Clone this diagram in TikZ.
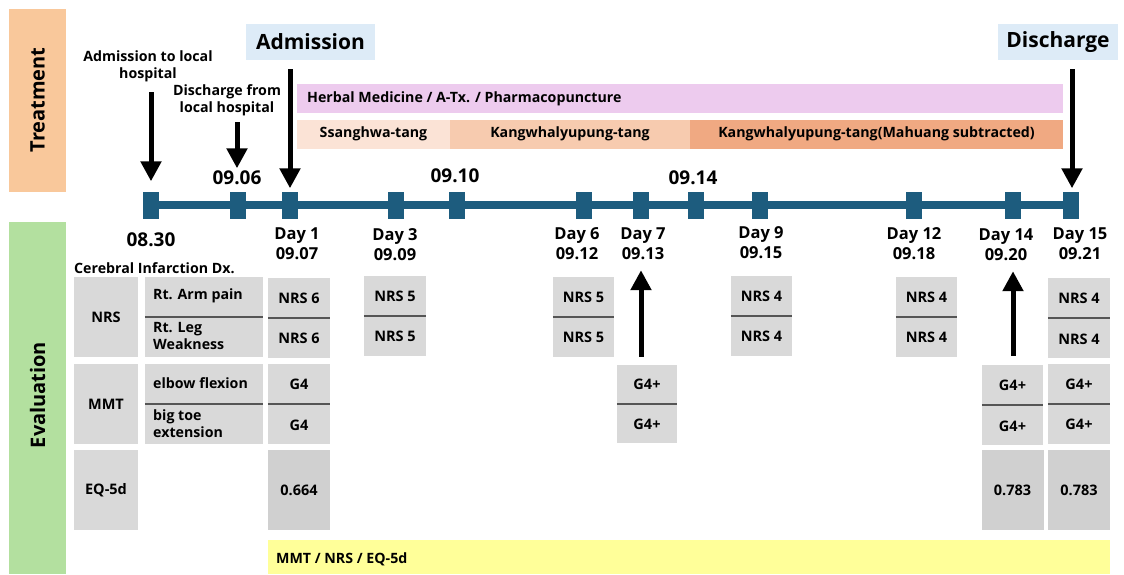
\documentclass[tikz,border=0pt]{standalone}
\usepackage{fontspec}
\setmainfont{Open Sans}
\usetikzlibrary{arrows.meta}

\definecolor{treatorange}{HTML}{F9C89B}
\definecolor{evalgreen}{HTML}{B3E09F}
\definecolor{admblue}{HTML}{DDEBF7}
\definecolor{herbpink}{HTML}{EDCBEE}
\definecolor{ssangpeach}{HTML}{FBE3D6}
\definecolor{kangpeach}{HTML}{F7CBAF}
\definecolor{mahuangorange}{HTML}{F0A982}
\definecolor{evalyellow}{HTML}{FFFF99}
\definecolor{tlblue}{HTML}{1D5C7E}
\definecolor{cellgray}{HTML}{D9D9D9}
\definecolor{eqgray}{HTML}{D0D0D0}
\definecolor{divgray}{HTML}{555555}

\tikzset{
  tlmark/.style={fill=tlblue, minimum width=16pt, minimum height=27pt, inner sep=0pt},
  sidetxt/.style={rotate=90, font=\bfseries\fontsize{20}{24}\selectfont},
  headbox/.style={inner sep=0pt, minimum height=36pt, font=\bfseries\fontsize{21}{24}\selectfont},
  bigdate/.style={font=\bfseries\fontsize{19}{22}\selectfont, inner sep=0pt},
  daylbl/.style={align=center, font=\bfseries\fontsize{16.5}{20}\selectfont, inner sep=0pt},
  note/.style={align=center, font=\bfseries\fontsize{14.2}{17}\selectfont, inner sep=0pt},
  bar/.style={inner sep=0pt, minimum height=29pt},
  cell/.style={fill=cellgray, inner sep=0pt, minimum height=80pt},
  celltxt/.style={font=\bfseries\fontsize{14.5}{17}\selectfont, inner sep=0pt},
  itemtxt/.style={font=\bfseries\fontsize{14.2}{17}\selectfont, inner sep=0pt, anchor=west, align=left},
  divider/.style={draw=divgray, line width=1.6pt},
  bigarrow/.style={line width=5pt, -{Triangle[width=20pt,length=20pt]}}
}

\begin{document}
\begin{tikzpicture}[x=1pt,y=-1pt]
	\useasboundingbox (0,0) rectangle (1124,574);
	
	%%%%% SIDE BARS %%%%%
	\fill[treatorange] (9,9) rectangle (66,192);
	\node[sidetxt] (treatlbl) at (37.5,100) {Treatment};
	\fill[evalgreen] (9,222) rectangle (66,574);
	\node[sidetxt] (evallbl) at (37.5,395) {Evaluation};
	
	%%%%% TIMELINE %%%%%
	\draw[line width=8pt, tlblue] (143,205) -- (1079,205);
	\node[tlmark] (t0830) at (151,205) {};
	\node[tlmark] (t0906) at (238,205) {};
	\node[tlmark] (t1) at (290,205) {};
	\node[tlmark] (t3) at (396,205) {};
	\node[tlmark] (t0910) at (457,205) {};
	\node[tlmark] (t6) at (584,205) {};
	\node[tlmark] (t7) at (641,205) {};
	\node[tlmark] (t0914) at (696,205) {};
	\node[tlmark] (t9) at (760,205) {};
	\node[tlmark] (t12) at (914,205) {};
	\node[tlmark] (t14) at (1013,205) {};
	\node[tlmark] (t15) at (1071,205) {};
	
	\node[bigdate] (l0830) at (151,240) {08.30};
	\node[bigdate] (l0906) at (237,178) {09.06};
	\node[bigdate] (l0910) at (455,176) {09.10};
	\node[bigdate] (l0914) at (693,178) {09.14};
	
	\node[daylbl] (lday1) at (297,244) {Day 1\\09.07};
	\node[daylbl] (lday3) at (395,245) {Day 3\\09.09};
	\node[daylbl] (lday6) at (577,244) {Day 6\\09.12};
	\node[daylbl] (lday7) at (643,244) {Day 7\\09.13};
	\node[daylbl] (lday9) at (761,243) {Day 9\\09.15};
	\node[daylbl] (lday12) at (914,244) {Day 12\\09.18};
	\node[daylbl] (lday14) at (1006,245) {Day 14\\09.20};
	\node[daylbl] (lday15) at (1080,244) {Day 15\\09.21};
	
	%%%%% TREATMENT %%%%%
	\node[note] (notein) at (148,66) {Admission to local\\hospital};
	\node[note] (noteout) at (227,100) {Discharge from\\local hospital};
	\node[headbox, fill=admblue, minimum width=129pt] (admbox) at (310.5,42) {Admission};
	\node[headbox, fill=admblue, minimum width=120pt] (disbox) at (1058,42) {Discharge};
	
	\coordinate (src0830) at (151,92);
	\coordinate (src0906) at (237,122);
	\coordinate (srcadm) at (290,69);
	\coordinate (srcdis) at (1072,69);
	\draw[bigarrow, shorten >=10pt] (src0830) -- (t0830.north);
	\draw[bigarrow, shorten >=23pt] (src0906) -- (src0906 |- t0906.north);
	\draw[bigarrow, shorten >=3pt] (srcadm) -- (t1.north);
	\draw[bigarrow, shorten >=3pt] (srcdis) -- (srcdis |- t15.north);
	
	\node[bar, fill=herbpink, minimum width=766pt] (herb) at (680,98.5) {};
	\node[note, anchor=west] (herbtxt) at (307,99) {Herbal Medicine / A-Tx. / Pharmacopuncture};
	\node[bar, fill=ssangpeach, minimum width=153pt] (ssang) at (373.5,134) {};
	\node[note] (ssangtxt) at (ssang) {Ssanghwa-tang};
	\node[bar, fill=kangpeach, minimum width=240pt] (kang) at (570,134) {};
	\node[note] (kangtxt) at (kang) {Kangwhalyupung-tang};
	\node[bar, fill=mahuangorange, minimum width=373pt] (mahuang) at (876.5,134) {};
	\node[note] (mahuangtxt) at (mahuang) {Kangwhalyupung-tang(Mahuang subtracted)};
	
	%%%%% EVALUATION %%%%%
	\node[note, anchor=west] (dxtxt) at (74,268) {Cerebral Infarction Dx.};
	
	\node[cell, minimum width=64pt] (nrslbl) at (106,317) {};
	\node[celltxt] at (nrslbl) {NRS};
	\node[cell, minimum width=64pt] (mmtlbl) at (106,404) {};
	\node[celltxt] at (mmtlbl) {MMT};
	\node[cell, minimum width=64pt] (eqlbl) at (106,490) {};
	\node[celltxt] at (eqlbl) {EQ-5d};
	
	\node[cell, minimum width=118pt] (nrsitem) at (204,317) {};
	\node[itemtxt] (armtxt) at (153,296) {Rt. Arm pain};
	\node[itemtxt] (legtxt) at (153,336) {Rt. Leg\\Weakness};
	\draw[divider] (nrsitem.west) -- (nrsitem.east);
	\node[cell, minimum width=118pt] (mmtitem) at (204,404) {};
	\node[itemtxt] (elbowtxt) at (153,383) {elbow flexion};
	\node[itemtxt] (toetxt) at (153,424) {big toe\\extension};
	\draw[divider] (mmtitem.west) -- (mmtitem.east);
	
	% Day 1
	\node[cell, minimum width=62pt] (d1nrs) at (299,318) {};
	\node[celltxt] at (299,298) {NRS 6};
	\node[celltxt] at (299,338) {NRS 6};
	\draw[divider] (d1nrs.west) -- (d1nrs.east);
	\node[cell, minimum width=62pt] (d1mmt) at (299,404) {};
	\node[celltxt] at (299,384) {G4};
	\node[celltxt] at (299,425) {G4};
	\draw[divider] (d1mmt.west) -- (d1mmt.east);
	\node[cell, fill=eqgray, minimum width=62pt] (d1eq) at (299,490) {};
	\node[celltxt] at (d1eq) {0.664};
	
	% Day 3
	\node[cell, minimum width=62pt] (d3nrs) at (395,316) {};
	\node[celltxt] at (395,296) {NRS 5};
	\node[celltxt] at (395,336) {NRS 5};
	\draw[divider] (d3nrs.west) -- (d3nrs.east);
	
	% Day 6
	\node[cell, minimum width=61pt] (d6nrs) at (583.5,317) {};
	\node[celltxt] at (583.5,297) {NRS 5};
	\node[celltxt] at (583.5,337) {NRS 5};
	\draw[divider] (d6nrs.west) -- (d6nrs.east);
	
	% Day 7
	\node[cell, minimum width=60pt, minimum height=78pt] (d7mmt) at (647,404) {};
	\node[celltxt] at (647,384) {G4+};
	\node[celltxt] at (647,424) {G4+};
	\draw[divider] (d7mmt.west) -- (d7mmt.east);
	\draw[bigarrow, shorten <=8pt, shorten >=10pt] (d7mmt.north -| t7.center) -- (lday7.south -| t7.center);
	
	% Day 9
	\node[cell, minimum width=61pt] (d9nrs) at (761.5,316) {};
	\node[celltxt] at (761.5,296) {NRS 4};
	\node[celltxt] at (761.5,336) {NRS 4};
	\draw[divider] (d9nrs.west) -- (d9nrs.east);
	
	% Day 12
	\node[cell, minimum width=61pt] (d12nrs) at (926.5,317) {};
	\node[celltxt] at (926.5,297) {NRS 4};
	\node[celltxt] at (926.5,337) {NRS 4};
	\draw[divider] (d12nrs.west) -- (d12nrs.east);
	
	% Day 14
	\node[cell, minimum width=61pt] (d14mmt) at (1012.5,405) {};
	\node[celltxt] at (1012.5,385) {G4+};
	\node[celltxt] at (1012.5,426) {G4+};
	\draw[divider] (d14mmt.west) -- (d14mmt.east);
	\node[cell, fill=eqgray, minimum width=62pt] (d14eq) at (1012.5,490) {};
	\node[celltxt] at (d14eq) {0.783};
	\draw[bigarrow, shorten <=9pt, shorten >=10pt] (d14mmt.north -| t14.center) -- (lday14.south -| t14.center);
	
	% Day 15
	\node[cell, minimum width=62pt] (d15nrs) at (1079,318) {};
	\node[celltxt] at (1079,298) {NRS 4};
	\node[celltxt] at (1079,339) {NRS 4};
	\draw[divider] (d15nrs.west) -- (d15nrs.east);
	\node[cell, minimum width=62pt] (d15mmt) at (1079,404) {};
	\node[celltxt] at (1079,384) {G4+};
	\node[celltxt] at (1079,424) {G4+};
	\draw[divider] (d15mmt.west) -- (d15mmt.east);
	\node[cell, fill=eqgray, minimum width=62pt] (d15eq) at (1079,490) {};
	\node[celltxt] at (d15eq) {0.783};
	
	\node[bar, fill=evalyellow, minimum width=842pt, minimum height=34pt] (evalbar) at (689,557) {};
	\node[note, anchor=west] (evaltxt) at (276,559) {MMT / NRS / EQ-5d};
	
\end{tikzpicture}
\end{document}
